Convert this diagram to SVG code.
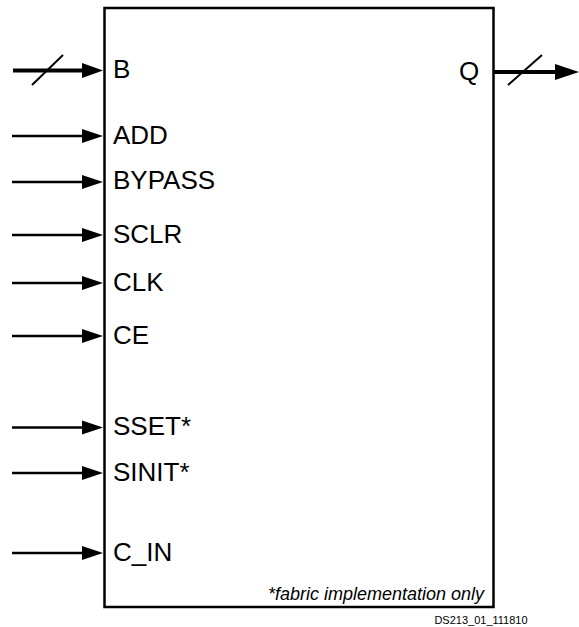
<svg xmlns="http://www.w3.org/2000/svg" width="579" height="627" viewBox="0 0 579 627">
<style>
.lbl{font-family:"Liberation Sans",Arial,sans-serif;font-size:26px;fill:#000}
.w{stroke:#000;stroke-width:2.4;fill:none}
.bus{stroke:#000;stroke-width:4;fill:none}
.sl{stroke:#000;stroke-width:2;fill:none}
.ah{fill:#000}
</style>
<rect width="579" height="627" fill="#fff"/>
<g id="block">
<rect x="104.5" y="8" width="389" height="599" fill="#fff" stroke="#000" stroke-width="2.5"/>
<text class="lbl" x="113" y="78">B</text>
<text class="lbl" x="459" y="80">Q</text>
<text class="lbl" x="113" y="143.5">ADD</text>
<text class="lbl" x="113" y="189">BYPASS</text>
<text class="lbl" x="113" y="242.5">SCLR</text>
<text class="lbl" x="113" y="290.5">CLK</text>
<text class="lbl" x="113" y="343.5">CE</text>
<text class="lbl" x="113" y="435">SSET*</text>
<text class="lbl" x="113" y="480.5">SINIT*</text>
<text class="lbl" x="113" y="561">C_IN</text>
<text x="484" y="600" text-anchor="end" font-family="'Liberation Sans',Arial,sans-serif" font-size="18" font-style="italic">*fabric implementation only</text>
</g>
<g id="connectors">
<path class="bus" d="M13 70.5H84"/>
<path class="ah" d="M82 63L103 70.5L82 78Z"/>
<path class="sl" d="M32 85L63 55"/>
<path class="bus" d="M494 72H557"/>
<path class="ah" d="M555 64L579 72L555 80Z"/>
<path class="sl" d="M508 85L542 55"/>
<path class="w" d="M12 136H84"/><path class="ah" d="M82 129L103 136L82 143Z"/>
<path class="w" d="M12 182H84"/><path class="ah" d="M82 175L103 182L82 189Z"/>
<path class="w" d="M12 235H84"/><path class="ah" d="M82 228L103 235L82 242Z"/>
<path class="w" d="M12 283H84"/><path class="ah" d="M82 276L103 283L82 290Z"/>
<path class="w" d="M12 336H84"/><path class="ah" d="M82 329L103 336L82 343Z"/>
<path class="w" d="M12 427.5H84"/><path class="ah" d="M82 420.5L103 427.5L82 434.5Z"/>
<path class="w" d="M12 473H84"/><path class="ah" d="M82 466L103 473L82 480Z"/>
<path class="w" d="M12 553H84"/><path class="ah" d="M82 546L103 553L82 560Z"/>
</g>
<text x="481" y="624" text-anchor="middle" font-family="'Liberation Sans',Arial,sans-serif" font-size="11">DS213_01_111810</text>
</svg>
